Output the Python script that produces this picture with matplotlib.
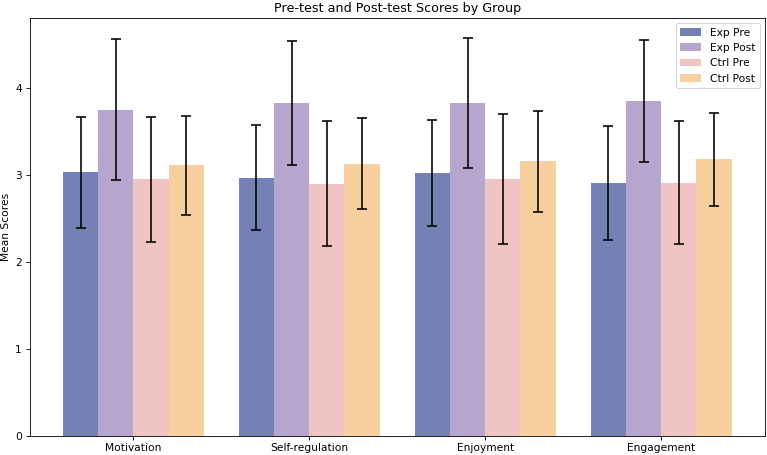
import matplotlib.pyplot as plt
import numpy as np

categories = ["Motivation", "Self-regulation", "Enjoyment", "Engagement"]
series_names = ["Exp Pre", "Exp Post", "Ctrl Pre", "Ctrl Post"]

exp_pre = [3.03, 2.97, 3.02, 2.91]
exp_post = [3.75, 3.83, 3.83, 3.85]
ctrl_pre = [2.95, 2.90, 2.95, 2.91]
ctrl_post = [3.11, 3.13, 3.16, 3.18]

exp_pre_sd = [0.64, 0.60, 0.61, 0.655]
exp_post_sd = [0.81, 0.71, 0.745, 0.70]
ctrl_pre_sd = [0.72, 0.72, 0.745, 0.705]
ctrl_post_sd = [0.57, 0.52, 0.58, 0.535]

colors = ["#7580b4", "#b6a5cf", "#f1c4c4", "#f8cf9f"]


def main():
    means = [exp_pre, exp_post, ctrl_pre, ctrl_post]
    sds = [exp_pre_sd, exp_post_sd, ctrl_pre_sd, ctrl_post_sd]

    fig = plt.figure(figsize=(10, 455 / 76.7), dpi=76.7)
    ax = fig.add_axes([29.5 / 767, 19 / 455, 735.5 / 767, 418 / 455])

    x = np.arange(len(categories))
    width = 0.2
    for i, (name, m, s, c) in enumerate(zip(series_names, means, sds, colors)):
        ax.bar(x + (i - 1.5) * width, m, width, yerr=s, color=c, label=name,
               capsize=5, error_kw={"elinewidth": 1.5, "capthick": 1.5, "ecolor": "black"})

    ax.set_xticks(x)
    ax.set_xticklabels(categories)
    ax.set_ylabel("Mean Scores")
    ax.set_title("Pre-test and Post-test Scores by Group")
    ax.legend(loc="upper right")

    fig.savefig("out.png", dpi=76.7)


if __name__ == "__main__":
    main()
